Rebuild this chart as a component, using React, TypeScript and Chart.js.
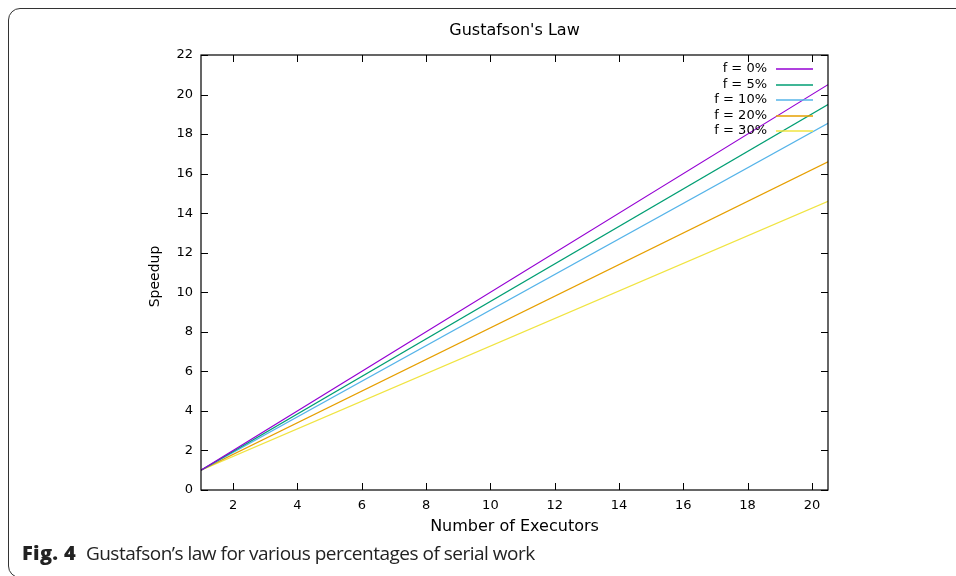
import React, { useEffect, useRef } from "react";
import { Chart, registerables } from "chart.js";

Chart.register(...registerables);

const executors = [1, 20.5];
const seriesLabels = ["f = 0%", "f = 5%", "f = 10%", "f = 20%", "f = 30%"];
const speedupF0 = [1, 20.5];
const speedupF5 = [1, 19.5];
const speedupF10 = [1, 18.55];
const speedupF20 = [1, 16.6];
const speedupF30 = [1, 14.6];
const seriesColors = ["#9400d3", "#009e73", "#56b4e9", "#e69f00", "#f0e442"];
const xTickValues = [2, 4, 6, 8, 10, 12, 14, 16, 18, 20];
const yTickValues = [0, 2, 4, 6, 8, 10, 12, 14, 16, 18, 20, 22];

const FONT = "'DejaVu Sans', sans-serif";

const decorPlugin = {
  id: "gnuplotDecor",
  afterDraw(chart: any) {
    const ctx = chart.ctx as CanvasRenderingContext2D;
    const { left, right, top, bottom } = chart.chartArea;
    const xs = chart.scales.x;
    const ys = chart.scales.y;
    ctx.save();
    ctx.strokeStyle = "#000";
    ctx.lineWidth = 1.2;
    ctx.strokeRect(left, top, right - left, bottom - top);
    ctx.lineWidth = 1;
    const tl = 7;
    ctx.beginPath();
    for (const v of xTickValues) {
      const px = Math.round(xs.getPixelForValue(v)) + 0.5;
      ctx.moveTo(px, bottom);
      ctx.lineTo(px, bottom - tl);
      ctx.moveTo(px, top);
      ctx.lineTo(px, top + tl);
    }
    for (const v of yTickValues) {
      const py = Math.round(ys.getPixelForValue(v)) + 0.5;
      ctx.moveTo(left, py);
      ctx.lineTo(left + tl, py);
      ctx.moveTo(right, py);
      ctx.lineTo(right - tl, py);
    }
    ctx.stroke();
    ctx.fillStyle = "#000";
    ctx.textAlign = "center";
    ctx.textBaseline = "middle";
    ctx.font = `16px ${FONT}`;
    ctx.fillText("Gustafson's Law", (left + right) / 2, 31);
    ctx.fillText("Number of Executors", (left + right) / 2, 527);
    ctx.save();
    ctx.font = `14px ${FONT}`;
    ctx.translate(155, (top + bottom) / 2 + 4);
    ctx.rotate(-Math.PI / 2);
    ctx.fillText("Speedup", 0, 0);
    ctx.restore();
    ctx.font = `13px ${FONT}`;
    ctx.textAlign = "right";
    const rowY = [69, 84.5, 100, 115.5, 131];
    seriesLabels.forEach((label, i) => {
      const y = rowY[i];
      ctx.fillStyle = "#000";
      ctx.fillText(label, 767, y);
    });
    seriesLabels.forEach((_label, i) => {
      const y = Math.round(rowY[i]);
      ctx.strokeStyle = seriesColors[i];
      ctx.lineWidth = 1.5;
      ctx.beginPath();
      ctx.moveTo(776, y);
      ctx.lineTo(813, y);
      ctx.stroke();
    });
    ctx.restore();
  },
};

export default function App() {
  const ref = useRef<HTMLCanvasElement | null>(null);
  useEffect(() => {
    if (!ref.current) return;
    const seriesValues = [speedupF0, speedupF5, speedupF10, speedupF20, speedupF30];
    const chart = new Chart(ref.current, {
      type: "line",
      data: {
        datasets: seriesValues.map((vals, i) => ({
          label: seriesLabels[i],
          data: executors.map((x, j) => ({ x, y: vals[j] })),
          borderColor: seriesColors[i],
          backgroundColor: seriesColors[i],
          borderWidth: 1.2,
          pointRadius: 0,
          tension: 0,
          fill: false,
        })),
      },
      options: {
        animation: false,
        responsive: false,
        maintainAspectRatio: false,
        layout: { padding: { left: 141, right: 128, top: 55, bottom: 46 } },
        plugins: {
          legend: { display: false },
          title: { display: false },
          tooltip: { enabled: false },
        },
        scales: {
          x: {
            type: "linear",
            min: 1,
            max: 20.5,
            grid: { display: false, drawTicks: false },
            border: { display: false },
            ticks: { color: "#000", font: { family: FONT, size: 13 }, padding: 8, maxRotation: 0 },
            afterBuildTicks: (s: any) => {
              s.ticks = xTickValues.map((v) => ({ value: v }));
            },
            afterFit: (s: any) => {
              s.height = 40;
            },
          },
          y: {
            type: "linear",
            min: 0,
            max: 22,
            grid: { display: false, drawTicks: false },
            border: { display: false },
            ticks: { color: "#000", font: { family: FONT, size: 13 }, padding: 8 },
            afterBuildTicks: (s: any) => {
              s.ticks = yTickValues.map((v) => ({ value: v }));
            },
            afterFit: (s: any) => {
              s.width = 60;
            },
          },
        },
      },
      plugins: [decorPlugin],
    });
    return () => chart.destroy();
  }, []);

  return (
    <div
      style={{
        position: "fixed",
        left: 0,
        top: 0,
        width: 956,
        height: 576,
        overflow: "hidden",
        background: "#fff",
      }}
    >
      <div
        style={{
          position: "absolute",
          left: 8,
          top: 8,
          width: 1100,
          height: 570,
          border: "1px solid #333",
          borderRadius: 12,
          boxSizing: "border-box",
        }}
      />
      <canvas ref={ref} width={956} height={576} style={{ position: "absolute", left: 0, top: 0 }} />
      <div
        style={{
          position: "absolute",
          left: 22,
          top: 540,
          fontFamily: "'Open Sans', sans-serif",
          fontSize: 19,
          lineHeight: "26px",
          color: "#222",
          whiteSpace: "nowrap",
          letterSpacing: -0.5,
        }}
      >
        <b style={{ fontSize: 20, letterSpacing: 0.3, fontWeight: 800 }}>Fig. 4</b>
        <span style={{ marginLeft: 10 }}>Gustafson’s law for various percentages of serial work</span>
      </div>
    </div>
  );
}
